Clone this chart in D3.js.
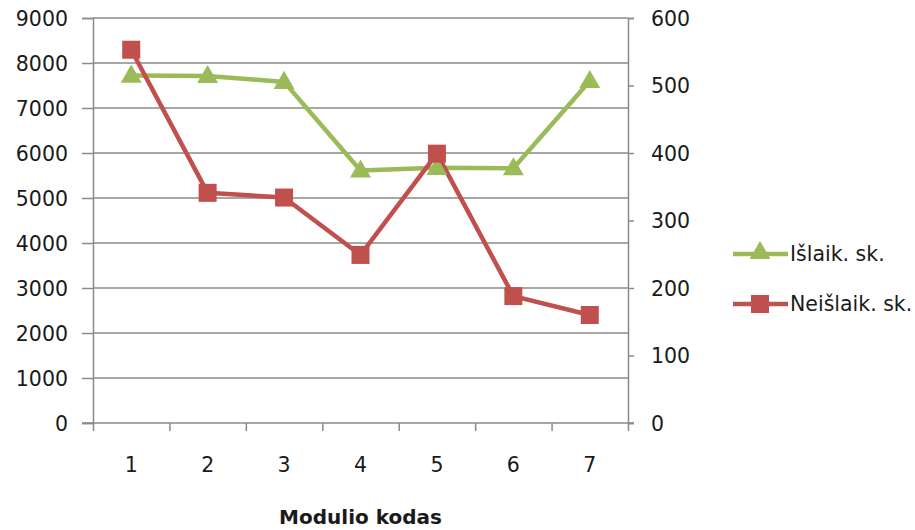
<!DOCTYPE html>
<html>
<head>
<meta charset="utf-8">
<script src="https://cdn.jsdelivr.net/npm/d3@7/dist/d3.min.js"></script>
<style>
  html, body { margin: 0; padding: 0; background: #fff; }
  svg { display: block; }
  text { font-family: "DejaVu Sans", Verdana, sans-serif; fill: #1a1a1a; }
</style>
</head>
<body>
<svg id="chart" width="915" height="530"></svg>
<script>
const categories = ["1", "2", "3", "4", "5", "6", "7"];
const islaikValues = [7720, 7710, 7580, 5610, 5670, 5660, 7600];   // left axis
const neislaikValues = [553, 341, 334, 249, 399, 188, 160];        // right axis
const leftTicks = [0, 1000, 2000, 3000, 4000, 5000, 6000, 7000, 8000, 9000];
const rightTicks = [0, 100, 200, 300, 400, 500, 600];
const seriesNames = ["Išlaik. sk.", "Neišlaik. sk."];
const xTitle = "Modulio kodas";

const svg = d3.select("#chart");
const plot = { left: 93, right: 628, top: 18, bottom: 423 };
const gridColor = "#8a8a8a";
const green = "#9BBB59", red = "#C0504D";
const fs = 20.5;

const x = d3.scaleBand().domain(categories).range([plot.left, plot.right]).padding(0);
const xb = d3.scaleLinear().domain([0, categories.length]).range([plot.left, plot.right]);
const yL = d3.scaleLinear().domain([0, 9000]).range([plot.bottom, plot.top]);
const yR = d3.scaleLinear().domain([0, 600]).range([plot.bottom, plot.top]);

// gridlines
svg.append("g").selectAll("line").data(leftTicks.filter(d => d > 0)).join("line")
  .attr("x1", plot.left).attr("x2", plot.right)
  .attr("y1", d => yL(d)).attr("y2", d => yL(d))
  .attr("stroke", gridColor).attr("stroke-width", 1.5);

// left axis
const gL = svg.append("g").attr("transform", `translate(${plot.left},0)`)
  .call(d3.axisLeft(yL).tickValues(leftTicks).tickSize(11).tickPadding(14).tickFormat(d3.format("d")));
// right axis
const gR = svg.append("g").attr("transform", `translate(${plot.right},0)`)
  .call(d3.axisRight(yR).tickValues(rightTicks).tickSize(6).tickPadding(17).tickFormat(d3.format("d")));
// bottom axis: boundary ticks
const gB = svg.append("g").attr("transform", `translate(0,${plot.bottom})`)
  .call(d3.axisBottom(xb).tickValues(d3.range(categories.length + 1)).tickSize(8).tickFormat(""));
// bottom axis labels
const gBL = svg.append("g").attr("transform", `translate(0,${plot.bottom})`)
  .call(d3.axisBottom(x).tickSize(0).tickPadding(34));

[gL, gR, gB, gBL].forEach(g => {
  g.select(".domain").attr("stroke", gridColor).attr("stroke-width", 1.5);
  g.selectAll(".tick line").attr("stroke", gridColor).attr("stroke-width", 1.5);
  g.selectAll("text").style("font-family", '"DejaVu Sans", Verdana, sans-serif')
    .style("font-size", fs + "px").attr("fill", "#1a1a1a");
});
gBL.select(".domain").remove();
gL.selectAll("text").attr("dy", "0.36em");
gR.selectAll("text").attr("dy", "0.36em");
// extend x axis line to left tick
gB.select(".domain").attr("d", `M${plot.left - 11},0H${plot.right + 6}`);

// axis title
svg.append("text")
  .attr("x", (plot.left + plot.right) / 2).attr("y", 524)
  .attr("text-anchor", "middle")
  .style("font-size", "20px").style("font-weight", "bold")
  .text(xTitle);

const cx = d => x(d) + x.bandwidth() / 2;

// series lines
const lineL = d3.line().x((d, i) => cx(categories[i])).y(d => yL(d));
const lineR = d3.line().x((d, i) => cx(categories[i])).y(d => yR(d));

svg.append("path").datum(islaikValues).attr("d", lineL)
  .attr("fill", "none").attr("stroke", green).attr("stroke-width", 4.5).attr("stroke-linejoin", "round");
svg.append("path").datum(neislaikValues).attr("d", lineR)
  .attr("fill", "none").attr("stroke", red).attr("stroke-width", 4.5).attr("stroke-linejoin", "round");

const tri = d3.symbol().type(d3.symbolTriangle).size(190);
svg.append("g").selectAll("path").data(islaikValues).join("path")
  .attr("d", tri)
  .attr("transform", (d, i) => `translate(${cx(categories[i])},${yL(d) + 1})`)
  .attr("fill", green);

const sq = 18;
svg.append("g").selectAll("rect").data(neislaikValues).join("rect")
  .attr("x", (d, i) => cx(categories[i]) - sq / 2)
  .attr("y", d => yR(d) - sq / 2)
  .attr("width", sq).attr("height", sq)
  .attr("fill", red);

// legend
const leg = svg.append("g");
const legItems = [
  { name: seriesNames[0], color: green, type: "tri", y: 254 },
  { name: seriesNames[1], color: red, type: "sq", y: 304 }
];
legItems.forEach(it => {
  leg.append("line").attr("x1", 733).attr("x2", 788).attr("y1", it.y).attr("y2", it.y)
    .attr("stroke", it.color).attr("stroke-width", 4.5);
  if (it.type === "tri") {
    leg.append("path").attr("d", tri).attr("transform", `translate(760,${it.y - 1})`).attr("fill", it.color);
  } else {
    leg.append("rect").attr("x", 760 - sq / 2).attr("y", it.y - sq / 2).attr("width", sq).attr("height", sq).attr("fill", it.color);
  }
  leg.append("text").attr("x", 790).attr("y", it.y).attr("dy", "0.36em")
    .style("font-size", fs + "px").text(it.name);
});
</script>
</body>
</html>
